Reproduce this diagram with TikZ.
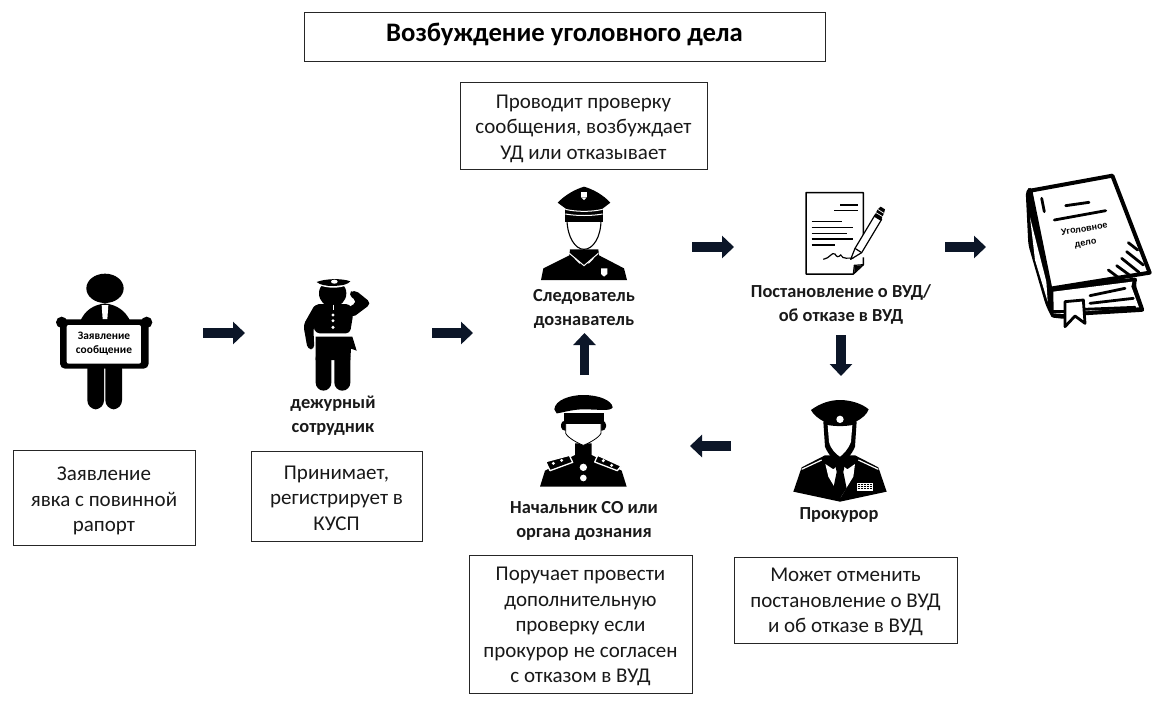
\documentclass[tikz,border=0pt]{standalone}
\usepackage{fontspec}
\setmainfont{Carlito}
\newfontfamily\arialf{Liberation Sans}
\usetikzlibrary{arrows.meta}
\definecolor{navy}{HTML}{0C1628}
\tikzset{
 box/.style={draw=black!85,line width=.9pt,inner sep=0pt},
 boxtext/.style={align=center,inner sep=0pt,font=\fontsize{21}{25.6}\selectfont,text=black!90},
 lab/.style={align=center,inner sep=0pt,font=\fontsize{18.4}{24}\selectfont\bfseries,text=black!90},
 blockarrow/.style={draw=navy,line width=9.5pt,-{Triangle[length=12pt,width=22pt]}},
 ink/.style={fill=black,draw=none},
 wl/.style={draw=white,line width=1pt},
 wf/.style={fill=white,draw=none},
 zoomed/.style={x=.33333pt,y=-.33333pt}
}
\begin{document}
\begin{tikzpicture}[x=1pt,y=-1pt]
\useasboundingbox (0,0) rectangle (1170,710);
\fill[white] (0,0) rectangle (1170,710);
% boxes
\node[box,minimum width=521pt,minimum height=49pt] (title) at (564.5,36.5) {};
\node[inner sep=0pt,font=\fontsize{26.7}{30}\selectfont\bfseries] (titlet) at ([yshift=2.5pt]title.center) {Возбуждение уголовного дела};
\node[box,minimum width=247pt,minimum height=87pt] (b2) at (583.5,125.5) {};
\node[boxtext] (b2t) at ([yshift=-3pt]b2.center) {Проводит проверку\\сообщения, возбуждает\\УД или отказывает};
\node[box,minimum width=182pt,minimum height=95pt] (b1) at (104,497.5) {};
\node[boxtext] (b1t) at ([yshift=-3.5pt]b1.center) {Заявление\\явка с повинной\\рапорт};
\node[box,minimum width=171pt,minimum height=90pt] (b3) at (336.5,496) {};
\node[boxtext] (b3t) at ([yshift=-2pt]b3.center) {Принимает,\\регистрирует в\\КУСП};
\node[box,minimum width=223pt,minimum height=138pt] (b4) at (580.5,624) {};
\node[boxtext] (b4t) at ([yshift=-2.5pt]b4.center) {Поручает провести\\дополнительную\\проверку если\\прокурор не согласен\\с отказом в ВУД};
\node[box,minimum width=223pt,minimum height=86pt] (b5) at (845.5,600) {};
\node[boxtext] (b5t) at ([yshift=-2pt]b5.center) {Может отменить\\постановление о ВУД\\и об отказе в ВУД};
% labels
\node[lab] (l1) at (333,416) {дежурный\\сотрудник};
\node[lab] (l2) at (584,309) {Следователь\\дознаватель};
\node[lab] (l3) at (841,304) {Постановление о ВУД/\\об отказе в ВУД};
\node[lab] (l4) at (584,521) {Начальник СО или\\органа дознания};
\node[lab] (l5) at (839,515) {Прокурор};
% connectors
\coordinate (a1) at (203,333); \coordinate (a2) at (245,333);
\coordinate (c1) at (432,333); \coordinate (c2) at (473,333);
\coordinate (d1) at (692,247); \coordinate (d2) at (734,247);
\coordinate (e1) at (945,247); \coordinate (e2) at (986,247);
\coordinate (f1) at (841,335); \coordinate (f2) at (841,376);
\coordinate (g1) at (731,446); \coordinate (g2) at (690,446);
\coordinate (h1) at (584.5,375); \coordinate (h2) at (584.5,333);
\foreach \p/\q in {a1/a2,c1/c2,d1/d2,e1/e2,f1/f2,g1/g2,h1/h2}
  \draw[blockarrow] (\p) -- (\q);
% person with board
\begin{scope}[shift={(30,260)},zoomed]
 \fill[ink] (225,85) ellipse [x radius=56,y radius=44];
 \fill[ink] (150,185) .. controls (165,150) and (190,135) .. (225,130) .. controls (260,135) and (285,150) .. (302,185) -- cycle;
 \fill[wf] (215,135) -- (235,135) -- (232,178) -- (218,178) -- cycle;
 \fill[ink,rounded corners=9pt] (172,300) -- (222,300) -- (222,448) -- (172,448) -- cycle;
 \fill[ink,rounded corners=9pt] (226,300) -- (276,300) -- (276,448) -- (226,448) -- cycle;
 \fill[ink,rounded corners=5pt] (90,178) rectangle (356,326);
 \fill[ink] (95,187) circle (17);
 \fill[ink] (350,187) circle (17);
 \fill[wf,rounded corners=2pt] (110,195) rectangle (333,311);
 \node[inner sep=0pt,align=center,font=\fontsize{11.4}{14}\selectfont\bfseries] (sign) at (222,252) {Заявление\\сообщение};
\end{scope}
% saluting officer
\begin{scope}[shift={(295,270)},zoomed]
 \fill[ink] (113,70) circle (41);
 \fill[wf] (70,44) .. controls (95,56) and (135,56) .. (160,44) -- (160,38) -- (70,38) -- cycle;
 \fill[ink] (65,36) .. controls (90,26) and (140,24) .. (166,34) .. controls (158,42) and (150,46) .. (115,48) .. controls (90,48) and (75,44) .. (65,36) -- cycle;
 \fill[wf] (118,35) ellipse [x radius=10,y radius=6];
 \fill[ink,rounded corners=5pt] (158,72) -- (178,58) -- (230,100) -- (170,145) -- (150,118) -- (188,96) -- cycle;
 \fill[ink,rounded corners=4pt] (60,102) -- (165,102) -- (175,130) -- (165,190) -- (62,190) -- (55,170) -- cycle;
 \fill[ink,rounded corners=4pt] (62,100) -- (25,165) -- (38,238) -- (58,238) -- (55,170) -- (80,135) -- cycle;
 \fill[ink] (62,200) -- (172,200) -- (185,242) -- (168,236) -- (166,270) -- (62,270) -- cycle;
 \fill[ink,rounded corners=8pt] (62,240) -- (109,240) -- (109,362) -- (62,362) -- cycle;
 \fill[ink,rounded corners=8pt] (118,240) -- (166,240) -- (166,362) -- (118,362) -- cycle;
 \fill[wf] (114,135) circle (5); \fill[wf] (114,152) circle (5); \fill[wf] (114,172) circle (5);
 \draw[wl] (114,104) -- (114,120);
\end{scope}
% investigator
\begin{scope}[shift={(520,170)},zoomed]
 \fill[ink] (63,330) -- (70,295) -- (148,256) -- (150,238) -- (235,238) -- (237,256) -- (312,295) -- (321,330) -- cycle;
 \draw[wl] (148,250) -- (192,287) -- (235,250);
 \draw[wl] (165,265) -- (180,280); \draw[wl] (220,265) -- (205,280);
 \fill[wf] (243,295) -- (262,295) -- (262,312) -- (252,320) -- (243,312) -- cycle;
 \filldraw[fill=white,draw=black,line width=1.1pt] (141,150) .. controls (142,200) and (165,238) .. (192,238) .. controls (220,238) and (243,200) .. (243,150) -- cycle;
 \fill[ink] (136,118) rectangle (248,157);
 \fill[ink] (113,98) .. controls (135,75) and (165,58) .. (192,50) .. controls (220,58) and (250,75) .. (271,98) -- (245,118) -- (140,118) -- cycle;
 \draw[wl] (136,118) .. controls (170,126) and (215,126) .. (248,118);
 \draw[wl] (136,132) .. controls (170,138) and (215,138) .. (248,132);
 \fill[wf] (183,66) rectangle (200,82);
 \fill[wf] (183,82) -- (200,82) -- (192,90) -- cycle;
\end{scope}
% document with pen
\begin{scope}[shift={(520,170)},zoomed]
 \draw[black,line width=1.5pt,line join=round] (1030,205) -- (1030,68) -- (858,68) -- (858,312) -- (1000,312) -- (1030,284) -- (1030,262);
 \draw[black,line width=1.2pt] (1000,312) -- (1003,286) -- (1030,284);
 \fill[ink] (1003,288) -- (1026,286) -- (1003,307) -- cycle;
 \foreach \a/\b/\c in {960/1015/105,943/1015/122,875/965/155,875/998/172,875/980/190,875/998/207,875/945/225}
   \draw[black,line width=1.2pt] (\a,\c) -- (\b,\c);
 \draw[black,line width=1.2pt] (910,268) .. controls (930,265) and (935,245) .. (945,252) .. controls (950,262) and (955,262) .. (962,255) .. controls (970,270) and (985,262) .. (1000,265);
 \filldraw[fill=white,draw=black,line width=1.2pt,line join=round] (992,268) -- (1005,235) -- (1065,135) -- (1085,148) -- (1025,248) -- cycle;
 \fill[ink] (1062,140) -- (1073,118) -- (1082,110) -- (1095,118) -- (1092,130) -- (1082,152) -- cycle;
 \draw[wl,line width=.7pt] (1068,128) -- (1088,140);
 \draw[wl,line width=.7pt] (1073,118) -- (1092,130);
 \draw[black,line width=1.2pt] (1005,235) -- (1025,248);
\end{scope}
% book
\begin{scope}[shift={(1015,170)},zoomed]
 \fill[ink,rounded corners=3pt] (105,352) -- (368,322) -- (362,345) -- (390,425) -- (205,436) -- (150,447) -- (106,442) -- cycle;
 \fill[wf] (115,365) -- (352,335) -- (349,350) -- (372,412) -- (205,424) -- (150,432) -- (116,430) -- cycle;
 \fill[ink,rounded corners=4pt] (32,62) -- (48,48) -- (110,355) -- (110,442) -- (92,405) -- (40,225) -- cycle;
 \fill[wf] (45,142) -- (94,335) -- (98,395) -- (60,270) -- cycle;
 \filldraw[fill=white,draw=black,line width=4pt,line join=round] (46,62) -- (292,17) -- (404,308) -- (106,356) -- cycle;
 \foreach \a/\b/\c/\d in {280/300/320/330,305/287/350/320,320/265/372/307,335/245/385/285,340/218/368/240,80/85/88/125,152/107/222/97,118/150/272/122,225/377/330/355,225/400/355/385,115/425/150/425,205/418/360/412}
   \draw[black,line width=2.8pt,line cap=round] (\a,\b) -- (\c,\d);
 \filldraw[fill=white,draw=black,line width=2.8pt,line join=round] (150,395) -- (205,390) -- (210,460) -- (180,438) -- (150,470) -- cycle;
 \node[inner sep=0pt,rotate=9,font=\arialf\fontsize{9}{11}\selectfont\bfseries,text=black] (bk1) at (208,176) {Уголовное};
 \node[inner sep=0pt,rotate=9,font=\arialf\fontsize{9}{11}\selectfont\bfseries,text=black] (bk2) at (212,222) {дело};
\end{scope}
% chief
\begin{scope}[shift={(500,380)},zoomed]
 \fill[ink] (120,320) -- (135,272) -- (225,225) -- (225,190) -- (275,190) -- (275,225) -- (365,272) -- (380,320) -- cycle;
 \fill[ink,rounded corners=4pt] (183,122) rectangle (318,152);
 \filldraw[fill=white,draw=black,line width=.8pt] (197,130) -- (197,160) .. controls (205,175) and (235,190) .. (250,196) .. controls (265,190) and (295,175) .. (303,160) -- (303,130) -- cycle;
 \fill[ink] (192,100) rectangle (313,133);
 \fill[ink] (163,88) .. controls (165,60) and (210,45) .. (250,45) .. controls (295,45) and (335,60) .. (338,82) .. controls (330,95) and (300,88) .. (250,88) .. controls (215,88) and (180,100) .. (170,100) -- cycle;
 \fill[wf] (250,262) circle (11); \fill[wf] (250,294) circle (10);
 \filldraw[fill=black,draw=white,line width=1.3pt,line join=round] (137,245) -- (208,226) -- (218,247) -- (150,272) -- cycle;
 \filldraw[fill=black,draw=white,line width=1.3pt,line join=round] (293,226) -- (363,258) -- (352,272) -- (284,246) -- cycle;
 \foreach \x/\y in {160/250,185/241,310/242,335/256} \fill[wf] (\x,\y) circle (5);
\end{scope}
% prosecutor
\begin{scope}[shift={(500,380)},zoomed]
 \fill[ink] (880,335) -- (905,262) -- (975,226) -- (1065,226) -- (1135,262) -- (1160,335) -- (1020,365) -- cycle;
 \fill[wf] (976,252) -- (1000,268) -- (1020,250) -- (1042,268) -- (1065,252) -- (1060,290) -- (1022,352) -- (985,290) -- cycle;
 \fill[ink] (1005,252) -- (1035,252) -- (1030,276) -- (1040,325) -- (1020,355) -- (1000,325) -- (1010,276) -- cycle;
 \draw[wl,line width=1.2pt] (905,268) -- (965,240);
 \draw[wl,line width=1.2pt] (1135,268) -- (1075,240);
 \fill[wf] (1070,310) rectangle (1118,332);
 \foreach \y in {314,320,326} \draw[black,line width=.8pt,dash pattern=on 2pt off 1pt] (1073,\y) -- (1115,\y);
 \fill[ink] (970,125) -- (975,200) .. controls (985,225) and (1005,245) .. (1020,255) .. controls (1035,245) and (1055,225) .. (1065,200) -- (1070,125) -- cycle;
 \fill[wf] (983,135) -- (1057,135) -- (1053,185) .. controls (1045,208) and (1030,222) .. (1020,230) .. controls (1008,222) and (992,208) .. (987,185) -- cycle;
 \fill[ink] (933,90) .. controls (960,70) and (990,60) .. (1020,60) .. controls (1050,60) and (1085,70) .. (1106,88) .. controls (1100,105) and (1085,115) .. (1068,125) -- (1066,133) .. controls (1040,140) and (1000,140) .. (974,133) -- (972,125) .. controls (955,115) and (940,105) .. (933,90) -- cycle;
 \fill[wf] (1020,118) circle (11);
\end{scope}
\end{tikzpicture}
\end{document}
